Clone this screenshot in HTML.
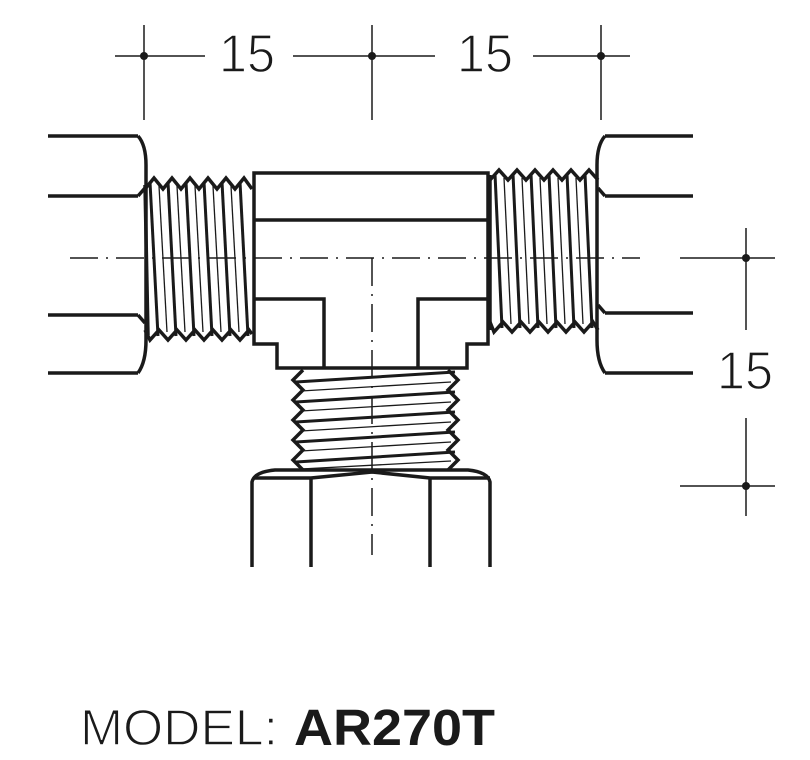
<!DOCTYPE html>
<html><head><meta charset="utf-8"><style>
html,body{margin:0;padding:0;background:#fff;}
svg{display:block}
</style></head><body>
<svg width="810" height="760" viewBox="0 0 810 760" xmlns="http://www.w3.org/2000/svg">
<g fill="none" stroke="#1a1a1a" stroke-linejoin="miter">
<g stroke-width="3.5">
<line x1="48" y1="136" x2="138" y2="136"/>
<line x1="48" y1="196" x2="138" y2="196"/>
<line x1="48" y1="315" x2="138" y2="315"/>
<line x1="48" y1="373" x2="138" y2="373"/>
<path d="M138,136 Q146,145 146,165 L146,340 Q146,362 138,373"/>
<path d="M138,196 L145,188 M138,315 L145,323"/>
<line x1="605" y1="136" x2="693" y2="136"/>
<line x1="605" y1="196" x2="693" y2="196"/>
<line x1="605" y1="313" x2="693" y2="313"/>
<line x1="605" y1="373" x2="693" y2="373"/>
<path d="M605,136 Q597,145 597,165 L597,340 Q597,362 605,373"/>
<path d="M605,196 L598,188 M605,313 L598,305"/>
<path d="M254,173 L488,173 L488,344 L467,344 L467,368 L277,368 L277,344 L254,344 Z"/>
<line x1="254" y1="220" x2="488" y2="220"/>
<path d="M254,299 L324,299 L324,368 M418,368 L418,299 L488,299"/>
<polyline points="145,189 154,178 163,189 172,178 181,189 190,178 199,189 208,178 217,189 226,178 235,189 244,178 252,189"/>
<polyline points="145,330 150,340 159,330 168,340 177,330 186,340 195,330 204,340 213,330 222,340 231,330 240,340 249,330 252,334"/>
<line x1="145" y1="185" x2="148" y2="335"/>
<polyline points="490,180 499,170 508,180 517,170 526,180 535,170 544,180 553,170 562,180 571,170 580,180 589,170 598,180"/>
<polyline points="490,322 494,332 503,322 512,332 521,322 530,332 539,322 548,332 557,322 566,332 575,322 584,332 593,322 598,330"/>
<line x1="490" y1="175" x2="490" y2="330"/>
<polyline points="303,370 293,380 303,390 293,400 303,410 293,420 303,430 293,440 303,450 293,460 303,470"/>
<polyline points="448,370 458,380 448,390 458,400 448,410 458,420 448,430 458,440 448,450 458,460 448,470"/>
<path d="M252,567 L252,482 Q254,472 275,470 L468,470 Q488,472 490,482 L490,567"/>
<path d="M311,567 L311,478 M430,567 L430,478 M254,478 L311,478 L372,472 L430,478 L490,478"/>
</g>
<g stroke-width="3">
<line x1="150" y1="182" x2="158" y2="336"/><line x1="168" y1="182" x2="176" y2="336"/><line x1="186" y1="182" x2="194" y2="336"/><line x1="204" y1="182" x2="212" y2="336"/><line x1="222" y1="182" x2="230" y2="336"/><line x1="240" y1="182" x2="248" y2="336"/>
<line x1="495" y1="174" x2="502" y2="328"/><line x1="513" y1="174" x2="520" y2="328"/><line x1="531" y1="174" x2="538" y2="328"/><line x1="549" y1="174" x2="556" y2="328"/><line x1="567" y1="174" x2="574" y2="328"/><line x1="585" y1="174" x2="592" y2="328"/>
<line x1="296" y1="382" x2="455" y2="372"/><line x1="296" y1="402" x2="455" y2="392"/><line x1="296" y1="422" x2="455" y2="412"/><line x1="296" y1="442" x2="455" y2="432"/><line x1="296" y1="462" x2="455" y2="452"/>
</g>
<g stroke-width="1.3">
<line x1="159" y1="186" x2="167" y2="332"/><line x1="177" y1="186" x2="185" y2="332"/><line x1="195" y1="186" x2="203" y2="332"/><line x1="213" y1="186" x2="221" y2="332"/><line x1="231" y1="186" x2="239" y2="332"/>
<line x1="504" y1="178" x2="511" y2="324"/><line x1="522" y1="178" x2="529" y2="324"/><line x1="540" y1="178" x2="547" y2="324"/><line x1="558" y1="178" x2="565" y2="324"/><line x1="576" y1="178" x2="583" y2="324"/>
<line x1="301" y1="391" x2="451" y2="382"/><line x1="301" y1="411" x2="451" y2="402"/><line x1="301" y1="431" x2="451" y2="422"/><line x1="301" y1="451" x2="451" y2="442"/><line x1="301" y1="469" x2="451" y2="461"/>
</g>
<g stroke-width="1.5">
<line x1="70" y1="258" x2="640" y2="258" stroke-dasharray="28,8,2,8"/>
<line x1="372" y1="258" x2="372" y2="555" stroke-dasharray="28,8,2,8"/>
<line x1="115" y1="56" x2="205" y2="56"/>
<line x1="293" y1="56" x2="435" y2="56"/>
<line x1="533" y1="56" x2="630" y2="56"/>
<line x1="144" y1="25" x2="144" y2="120"/>
<line x1="372" y1="25" x2="372" y2="120"/>
<line x1="601" y1="25" x2="601" y2="120"/>
<line x1="746" y1="228" x2="746" y2="330"/>
<line x1="746" y1="418" x2="746" y2="516"/>
<line x1="680" y1="258" x2="775" y2="258"/>
<line x1="680" y1="486" x2="775" y2="486"/>
</g>
</g>
<g fill="#1a1a1a">
<circle cx="144" cy="56" r="4"/><circle cx="372" cy="56" r="4"/><circle cx="601" cy="56" r="4"/>
<circle cx="746" cy="258" r="4"/><circle cx="746" cy="486" r="4"/>
</g>
<g font-family="Liberation Sans, sans-serif" fill="#1a1a1a" font-size="54" stroke="#fff" stroke-width="1.4" paint-order="normal">
<text x="219" y="72" textLength="56" lengthAdjust="spacingAndGlyphs">15</text>
<text x="457" y="72" textLength="56" lengthAdjust="spacingAndGlyphs">15</text>
<text x="717" y="389" textLength="56" lengthAdjust="spacingAndGlyphs">15</text>
<text x="80" y="745" font-size="51" textLength="198" lengthAdjust="spacingAndGlyphs">MODEL:</text>
</g>
<text x="294" y="745" font-family="Liberation Sans, sans-serif" fill="#1a1a1a" font-size="51" font-weight="bold" textLength="201" lengthAdjust="spacingAndGlyphs">AR270T</text>
</svg>
</body></html>
